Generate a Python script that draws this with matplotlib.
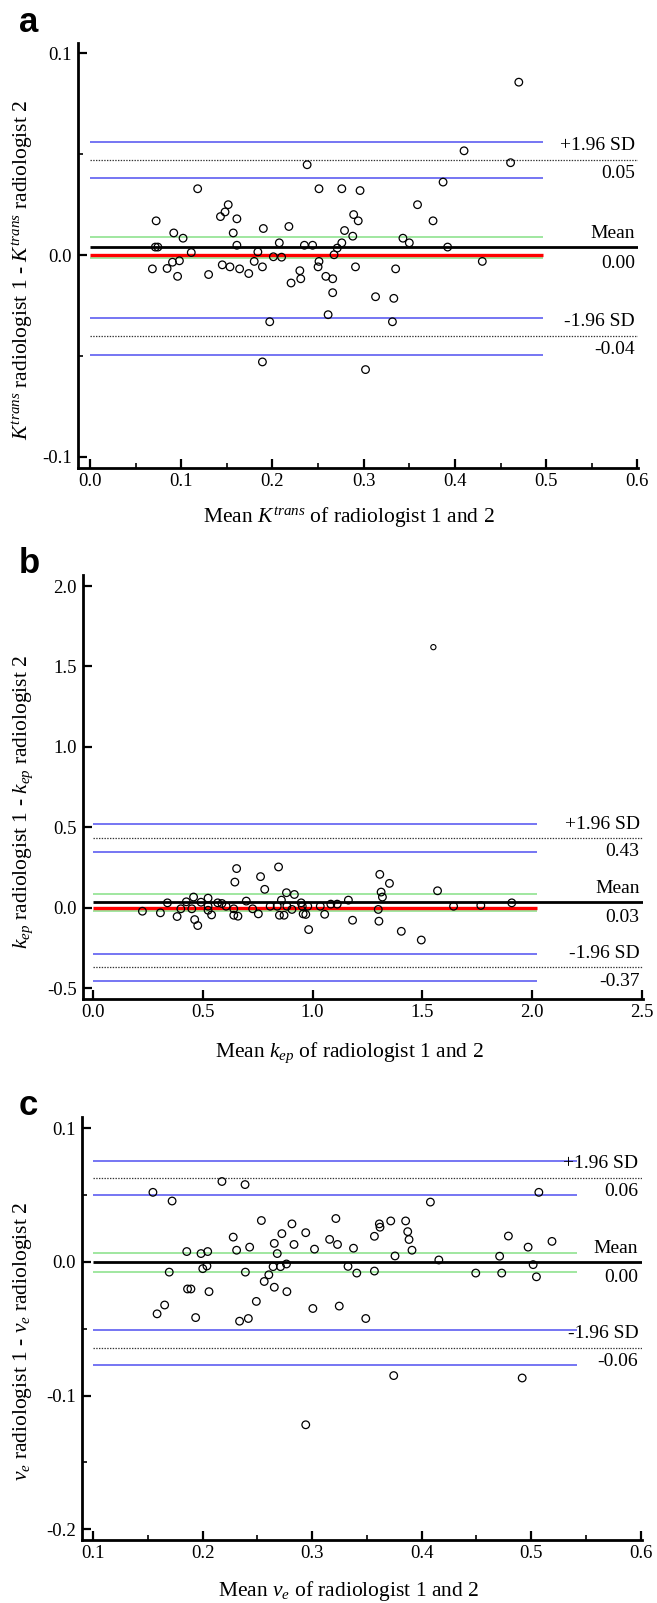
import matplotlib
matplotlib.use("Agg")
import matplotlib.pyplot as plt
from matplotlib.ticker import FixedLocator

plt.rcParams.update({
    "font.family": ["Liberation Serif", "DejaVu Serif"],
    "mathtext.fontset": "custom",
    "mathtext.rm": "Liberation Serif",
    "mathtext.it": "Liberation Serif:italic",
    "mathtext.bf": "Liberation Serif:bold",
    "axes.unicode_minus": False,
})

# ---------------- data: panel a (Ktrans) ----------------
a_mean = [0.470, 0.410, 0.461, 0.238, 0.118, 0.251, 0.276, 0.296, 0.387, 0.1515,
          0.148, 0.143, 0.161, 0.0725, 0.359, 0.289, 0.294, 0.376, 0.0918, 0.102,
          0.157, 0.190, 0.218, 0.279, 0.288, 0.343, 0.350, 0.0716, 0.0744, 0.161,
          0.2075, 0.235, 0.244, 0.276, 0.271, 0.392, 0.111, 0.184, 0.2675, 0.201,
          0.210, 0.251, 0.430, 0.0904, 0.098, 0.180, 0.0684, 0.0845, 0.0960, 0.130,
          0.145, 0.1534, 0.164, 0.174, 0.189, 0.250, 0.230, 0.231, 0.2204, 0.2585,
          0.266, 0.291, 0.335, 0.266, 0.313, 0.333, 0.197, 0.261, 0.3315, 0.189, 0.302]
a_diff = [0.0857, 0.0517, 0.0458, 0.0448, 0.0329, 0.0329, 0.0329, 0.0320, 0.0362, 0.0250,
          0.0214, 0.0191, 0.0180, 0.0170, 0.0250, 0.0201, 0.0170, 0.0170, 0.0110, 0.0084,
          0.0110, 0.0132, 0.0142, 0.0122, 0.0094, 0.0084, 0.0061, 0.0040, 0.0040, 0.0049,
          0.0061, 0.0049, 0.0049, 0.0061, 0.0035, 0.0040, 0.0013, 0.0016, 0.0002, -0.0008,
          -0.0010, -0.0031, -0.0031, -0.0035, -0.0028, -0.0031, -0.0068, -0.0066, -0.0105, -0.0096,
          -0.0048, -0.0058, -0.0068, -0.0091, -0.0058, -0.0058, -0.0077, -0.0117, -0.0138, -0.0105,
          -0.0117, -0.0058, -0.0068, -0.0186, -0.0206, -0.0214, -0.0330, -0.0295, -0.0330, -0.0529, -0.0567]
a_bias = 0.0038
a_bias_ci = [-0.0015, 0.0089]
a_upper = 0.0473
a_upper_ci = [0.0381, 0.0562]
a_lower = -0.0400
a_lower_ci = [-0.0494, -0.0312]
a_value_texts = ["0.05", "0.00", "-0.04"]
a_xticks = [0.0, 0.1, 0.2, 0.3, 0.4, 0.5, 0.6]
a_xticklabels = ["0.0", "0.1", "0.2", "0.3", "0.4", "0.5", "0.6"]
a_xminor = [0.05, 0.15, 0.25, 0.35, 0.45, 0.55]
a_yticks = [-0.1, 0.0, 0.1]
a_yticklabels = ["-0.1", "0.0", "0.1"]
a_yminor = [-0.05, 0.05]

# ---------------- data: panel b (kep) ----------------
b_mean = [0.225, 0.307, 0.339, 0.383, 0.400, 0.425, 0.450, 0.458, 0.463, 0.477,
          0.492, 0.524, 0.524, 0.524, 0.540, 0.568, 0.587, 0.606, 0.641, 0.646,
          0.654, 0.641, 0.660, 0.698, 0.727, 0.753, 0.763, 0.782, 0.807, 0.839,
          0.845, 0.849, 0.858, 0.870, 0.881, 0.883, 0.906, 0.917, 0.953, 0.957,
          0.978, 0.982, 1.035, 1.055, 1.083, 1.112, 1.163, 1.182, 1.299, 1.302,
          1.306, 1.312, 1.318, 1.350, 1.404, 1.495, 1.569, 1.642, 1.766, 1.907,
          0.948, 0.969]
b_diff = [-0.021, -0.031, 0.031, -0.054, -0.006, 0.0375, -0.006, 0.067, -0.073, -0.110,
          0.035, 0.060, 0.010, -0.015, -0.044, 0.031, 0.027, 0.010, -0.006, 0.160,
          0.244, -0.046, -0.052, 0.042, -0.006, -0.0375, 0.194, 0.115, 0.010, 0.010,
          0.254, -0.046, 0.048, -0.046, 0.094, 0.010, -0.010, 0.083, 0.010, -0.0375,
          0.010, -0.135, 0.010, -0.040, 0.023, 0.023, 0.048, -0.077, -0.010, -0.083,
          0.208, 0.098, 0.067, 0.152, -0.146, -0.200, 0.106, 0.010, 0.015, 0.031,
          0.031, -0.041]
b_outlier_mean = [1.550]
b_outlier_diff = [1.620]
b_bias = 0.035
b_bias_ci = [-0.017, 0.083]
b_upper = 0.433
b_upper_ci = [0.350, 0.519]
b_lower = -0.370
b_lower_ci = [-0.453, -0.289]
b_value_texts = ["0.43", "0.03", "-0.37"]
b_xticks = [0.0, 0.5, 1.0, 1.5, 2.0, 2.5]
b_xticklabels = ["0.0", "0.5", "1.0", "1.5", "2.0", "2.5"]
b_yticks = [-0.5, 0.0, 0.5, 1.0, 1.5, 2.0]
b_yticklabels = ["-0.5", "0.0", "0.5", "1.0", "1.5", "2.0"]

# ---------------- data: panel c (ve) ----------------
c_mean = [0.1547, 0.1722, 0.2177, 0.2388, 0.408, 0.507, 0.2537, 0.2816, 0.3217, 0.3614,
          0.362, 0.3718, 0.3854, 0.3873, 0.3885, 0.3912, 0.228, 0.2724, 0.2942, 0.2655,
          0.2835, 0.316, 0.3232, 0.3569, 0.3378, 0.3022, 0.2311, 0.243, 0.1856, 0.1986,
          0.2047, 0.2682, 0.3757, 0.4157, 0.4792, 0.4972, 0.519, 0.4712, 0.5018, 0.5048,
          0.4731, 0.4494, 0.2766, 0.2712, 0.2644, 0.2605, 0.2563, 0.2655, 0.277, 0.2491,
          0.3007, 0.3248, 0.349, 0.3328, 0.3408, 0.3569, 0.2391, 0.1696, 0.2002, 0.204,
          0.1863, 0.1894, 0.2059, 0.1654, 0.1585, 0.1937, 0.2338, 0.2418, 0.3745, 0.4918,
          0.2942]
c_diff = [0.0521, 0.0456, 0.0602, 0.0579, 0.0448, 0.0521, 0.031, 0.0285, 0.0325, 0.0285,
          0.026, 0.0307, 0.0307, 0.0227, 0.0168, 0.0088, 0.0186, 0.0212, 0.0219, 0.0139,
          0.0131, 0.0169, 0.0131, 0.0192, 0.0103, 0.0096, 0.0088, 0.0111, 0.0078, 0.0063,
          0.0078, 0.0063, 0.0045, 0.0015, 0.0194, 0.0111, 0.0154, 0.0043, -0.002, -0.0111,
          -0.0083, -0.0083, -0.0015, -0.0035, -0.0035, -0.0096, -0.0146, -0.0189, -0.0222, -0.0295,
          -0.0348, -0.033, -0.0423, -0.0033, -0.0083, -0.0068, -0.0076, -0.0076, -0.005, -0.003,
          -0.0202, -0.0202, -0.0222, -0.0322, -0.0388, -0.0416, -0.0443, -0.0423, -0.085, -0.0868,
          -0.1218]
c_bias = 0.0
c_bias_ci = [-0.0075, 0.0065]
c_upper = 0.0629
c_upper_ci = [0.0499, 0.0759]
c_lower = -0.0641
c_lower_ci = [-0.0768, -0.0511]
c_value_texts = ["0.06", "0.00", "-0.06"]
c_xticks = [0.1, 0.2, 0.3, 0.4, 0.5, 0.6]
c_xticklabels = ["0.1", "0.2", "0.3", "0.4", "0.5", "0.6"]
c_xminor = [0.15, 0.25, 0.35, 0.45, 0.55]
c_yticks = [-0.2, -0.1, 0.0, 0.1]
c_yticklabels = ["-0.2", "-0.1", "0.0", "0.1"]
c_yminor = [-0.15, -0.05, 0.05]

sd_texts = ["+1.96 SD", "Mean", "-1.96 SD"]

# ---------------- layout ----------------
W, H = 657.0, 1603.0
fig = plt.figure(figsize=(6.57, 16.03), dpi=100)


def rect(L, R, T, B):
    return [L / W, 1 - B / H, (R - L) / W, (B - T) / H]


BLUE = "#5050f0"
GREEN = "#86e086"


def panel(r, xlim, ylim, x, y, bias, bias_ci, up, up_ci, lo, lo_ci,
          ci_x, line_x0, red, values, xt, xtl, yt, ytl, xminor=None, yminor=None):
    ax = fig.add_axes(r)
    ax.set_xlim(*xlim)
    ax.set_ylim(*ylim)
    for s in ("top", "right"):
        ax.spines[s].set_visible(False)
    for s in ("left", "bottom"):
        ax.spines[s].set_linewidth(2.0)
    xmax = xlim[1]
    for v in list(up_ci) + list(lo_ci):
        ax.plot(ci_x, [v, v], color=BLUE, lw=1.1, zorder=2, solid_capstyle="butt")
    for v in bias_ci:
        ax.plot(ci_x, [v, v], color=GREEN, lw=1.1, zorder=2, solid_capstyle="butt")
    for v in (up, lo):
        ax.plot([line_x0, xmax], [v, v], color="#333333", lw=0.9,
                ls=(0, (1.1, 1.1)), zorder=2)
    ax.plot([line_x0, xmax], [bias, bias], color="black", lw=2.0, zorder=3,
            solid_capstyle="butt")
    if red:
        ax.plot(ci_x, [0, 0], color="#ff0000", lw=2.4, zorder=3, solid_capstyle="butt")
    ax.scatter(x, y, s=30, facecolors="none", edgecolors="black", linewidths=0.9, zorder=5)

    lines = [up, bias, lo]
    for i, v in enumerate(lines):
        ax.annotate(sd_texts[i], xy=(1, v), xycoords=("axes fraction", "data"),
                    xytext=(-2.5, 6.8), textcoords="offset points",
                    ha="right", va="baseline", fontsize=14, zorder=6)
        dy = -14.5 if i == 1 else -13.2
        ax.annotate(values[i], xy=(1, v), xycoords=("axes fraction", "data"),
                    xytext=(-2.5, dy), textcoords="offset points",
                    ha="right", va="baseline", fontsize=14, zorder=6)

    ax.xaxis.set_major_locator(FixedLocator(xt))
    ax.set_xticklabels(xtl)
    ax.yaxis.set_major_locator(FixedLocator(yt))
    ax.set_yticklabels(ytl)
    if xminor:
        ax.xaxis.set_minor_locator(FixedLocator(xminor))
    if yminor:
        ax.yaxis.set_minor_locator(FixedLocator(yminor))
    ax.tick_params(which="major", direction="in", length=6.5, width=1.6, labelsize=13.5)
    ax.tick_params(which="minor", direction="in", length=3.5, width=1.2)
    ax.tick_params(axis="x", which="major", pad=3.5)
    ax.tick_params(axis="y", which="major", pad=4.0)
    return ax


ax_a = panel(rect(77.5, 638.4, 42.7, 468.0), (-0.0137, 0.6011), (-0.10546, 0.10526),
             a_mean, a_diff, a_bias, a_bias_ci, a_upper, a_upper_ci, a_lower, a_lower_ci,
             [0.0, 0.497], 0.0, True, a_value_texts,
             a_xticks, a_xticklabels, a_yticks, a_yticklabels, a_xminor, a_yminor)

ax_b = panel(rect(82.5, 643.0, 575.0, 999.3), (-0.0478, 2.5046), (-0.5684, 2.0684),
             b_mean, b_diff, b_bias, b_bias_ci, b_upper, b_upper_ci, b_lower, b_lower_ci,
             [0.0, 2.02], 0.0, True, b_value_texts,
             b_xticks, b_xticklabels, b_yticks, b_yticklabels)
ax_b.scatter(b_outlier_mean, b_outlier_diff, s=14, facecolors="none",
             edgecolors="black", linewidths=0.8, zorder=5)

ax_c = panel(rect(81.7, 641.7, 1117.3, 1540.0), (0.08968, 0.6009), (-0.2080, 0.10823),
             c_mean, c_diff, c_bias, c_bias_ci, c_upper, c_upper_ci, c_lower, c_lower_ci,
             [0.1, 0.542], 0.1, False, c_value_texts,
             c_xticks, c_xticklabels, c_yticks, c_yticklabels, c_xminor, c_yminor)

LAB = 15.5
fig.text(349 / W, 1 - 522.7 / H, r"Mean $K^{trans}$ of radiologist 1 and 2",
         ha="center", va="baseline", fontsize=LAB)
fig.text(349 / W, 1 - 1057.3 / H, r"Mean $k_{ep}$ of radiologist 1 and 2",
         ha="center", va="baseline", fontsize=LAB)
fig.text(349 / W, 1 - 1596.0 / H, r"Mean $v_e$ of radiologist 1 and 2",
         ha="center", va="baseline", fontsize=LAB)

fig.text(23 / W, 1 - 270 / H, r"$K^{trans}$ radiologist 1 - $K^{trans}$ radiologist 2",
         rotation=90, ha="center", va="center", fontsize=LAB)
fig.text(23 / W, 1 - 802 / H, r"$k_{ep}$ radiologist 1 - $k_{ep}$ radiologist 2",
         rotation=90, ha="center", va="center", fontsize=LAB)
fig.text(23 / W, 1 - 1341 / H, r"$v_e$ radiologist 1 - $v_e$ radiologist 2",
         rotation=90, ha="center", va="center", fontsize=LAB)

for letter, base in (("a", 31.7), ("b", 572.7), ("c", 1115.0)):
    fig.text(19 / W, 1 - base / H, letter, ha="left", va="baseline",
             fontsize=25, fontweight="bold", family=["Liberation Sans", "DejaVu Sans"])

fig.savefig("out.png", dpi=100)
